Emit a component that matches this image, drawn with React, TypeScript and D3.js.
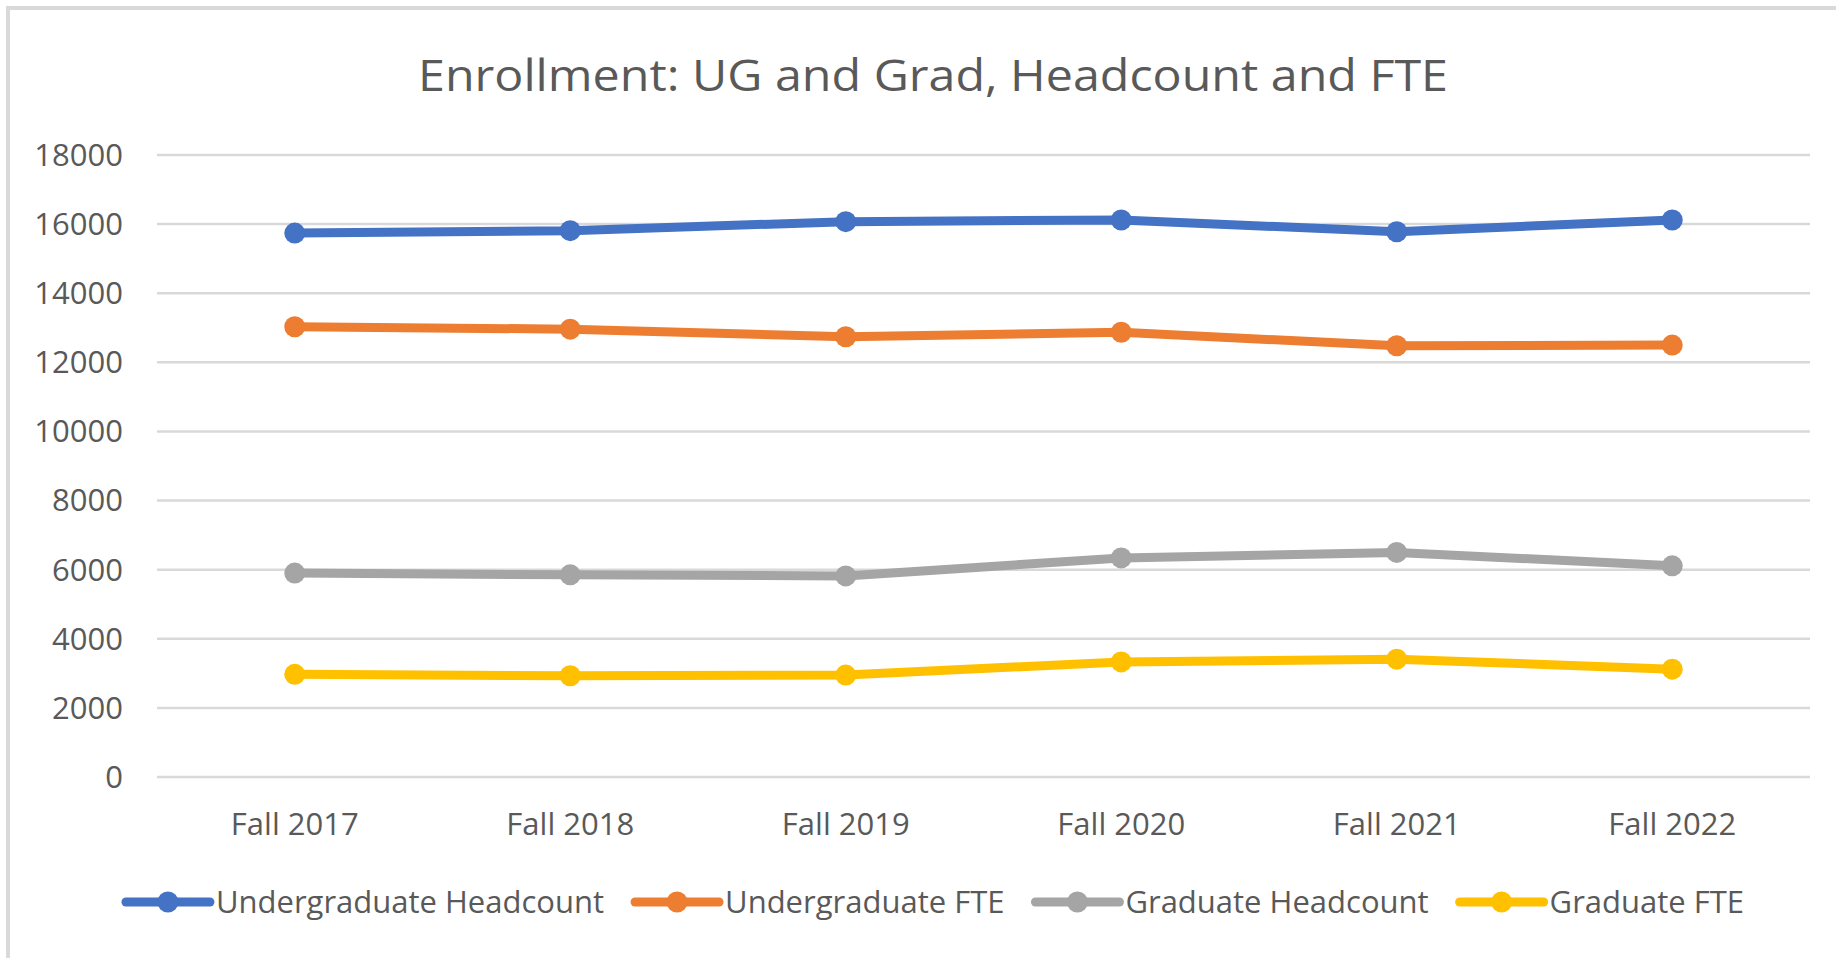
import React, { useMemo } from "react";
import * as d3 from "d3";

const categories = ["Fall 2017", "Fall 2018", "Fall 2019", "Fall 2020", "Fall 2021", "Fall 2022"];
const ugHeadcount = [15740, 15810, 16070, 16120, 15780, 16120];
const ugFTE = [13030, 12960, 12740, 12870, 12480, 12500];
const gradHeadcount = [5900, 5850, 5820, 6340, 6500, 6110];
const gradFTE = [2970, 2930, 2950, 3330, 3410, 3120];
const yTicks = [0, 2000, 4000, 6000, 8000, 10000, 12000, 14000, 16000, 18000];
const seriesNames = ["Undergraduate Headcount", "Undergraduate FTE", "Graduate Headcount", "Graduate FTE"];
const seriesColors = ["#4472C4", "#ED7D31", "#A5A5A5", "#FFC000"];
const title = "Enrollment: UG and Grad, Headcount and FTE";

const W = 1836;
const H = 958;
const FONT = "'Open Sans', 'Noto Sans', sans-serif";
const TEXT = "#595959";

function measure(text: string, size: number) {
  const c = document.createElement("canvas");
  const ctx = c.getContext("2d")!;
  ctx.font = `${size}px 'Open Sans'`;
  return ctx.measureText(text).width;
}

export default function App() {
  const seriesValues = [ugHeadcount, ugFTE, gradHeadcount, gradFTE];
  const x = d3.scalePoint<string>().domain(categories).range([157, 1810]).padding(0.5);
  const y = d3.scaleLinear().domain([0, 18000]).range([777, 155]);
  const line = d3
    .line<number>()
    .x((_, i) => x(categories[i])!)
    .y((d) => y(d));

  const legendSize = 31;
  const legendItems = useMemo(() => {
    const lineLen = 84;
    const gapText = 6;
    const gapItem = 31;
    const widths = seriesNames.map((n) => measure(n, legendSize));
    const total =
      widths.reduce((a, w) => a + lineLen + gapText + w, 0) + gapItem * (seriesNames.length - 1);
    let cx = 935 - total / 2;
    return seriesNames.map((n, i) => {
      const item = { name: n, color: seriesColors[i], x0: cx, tx: cx + lineLen + gapText };
      cx += lineLen + gapText + widths[i] + gapItem;
      return item;
    });
  }, []);

  return (
    <svg
      width={W}
      height={H}
      style={{ position: "absolute", left: 0, top: 0, background: "#fff" }}
      fontFamily={FONT}
    >
      <rect x={8} y={8} width={1900} height={1100} fill="#fff" stroke="#d9d9d9" strokeWidth={4} />
      <text x={933} y={91} textAnchor="middle" fontSize={43} fill={TEXT} textLength={1030} lengthAdjust="spacingAndGlyphs">
        {title}
      </text>
      {yTicks.map((t) => (
        <g key={t}>
          <line x1={157} x2={1810} y1={y(t)} y2={y(t)} stroke="#d9d9d9" strokeWidth={2.5} />
          <text x={123} y={y(t)} dy="0.35em" textAnchor="end" fontSize={31} fill={TEXT}>
            {t}
          </text>
        </g>
      ))}
      {categories.map((c) => (
        <text key={c} x={x(c)} y={835} textAnchor="middle" fontSize={31} fill={TEXT}>
          {c}
        </text>
      ))}
      {seriesValues.map((vals, si) => (
        <g key={si}>
          <path
            d={line(vals)!}
            fill="none"
            stroke={seriesColors[si]}
            strokeWidth={9}
            strokeLinejoin="round"
            strokeLinecap="round"
          />
          {vals.map((v, i) => (
            <circle key={i} cx={x(categories[i])} cy={y(v)} r={10.5} fill={seriesColors[si]} />
          ))}
        </g>
      ))}
      {legendItems.map((it) => (
        <g key={it.name}>
          <line x1={it.x0} x2={it.x0 + 84} y1={902} y2={902} stroke={it.color} strokeWidth={9} strokeLinecap="round" />
          <circle cx={it.x0 + 42} cy={902} r={10.5} fill={it.color} />
          <text x={it.tx} y={913} fontSize={legendSize} fill={TEXT}>
            {it.name}
          </text>
        </g>
      ))}
    </svg>
  );
}
